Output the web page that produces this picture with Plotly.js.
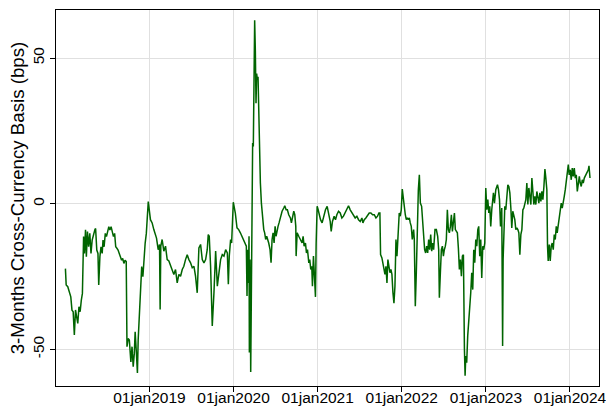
<!DOCTYPE html>
<html>
<head>
<meta charset="utf-8">
<script src="https://cdn.plot.ly/plotly-3.0.1.min.js"></script>
<style>html,body{margin:0;padding:0;background:#fff;}#chart{width:606px;height:409px;}</style>
</head>
<body>
<div id="chart"></div>
<script>
// Dates as decimal years
const dateYears = [
2018.001,2018.010,2018.029,2018.052,2018.065,2018.079,2018.093,2018.107,2018.121,2018.134,
2018.148,2018.162,2018.176,2018.190,2018.203,2018.217,2018.227,2018.240,2018.250,2018.263,
2018.277,2018.291,2018.305,2018.319,2018.337,2018.351,2018.360,2018.374,2018.388,2018.397,
2018.411,2018.424,2018.438,2018.448,2018.461,2018.475,2018.489,2018.503,2018.517,2018.530,
2018.544,2018.558,2018.572,2018.586,2018.599,2018.613,2018.627,2018.641,2018.655,2018.669,
2018.682,2018.696,2018.710,2018.724,2018.733,2018.747,2018.761,2018.770,2018.779,2018.793,
2018.807,2018.820,2018.830,2018.843,2018.857,2018.866,2018.880,2018.894,2018.908,2018.922,
2018.936,2018.949,2018.963,2018.977,2018.986,
2019.012,2019.032,2019.052,2019.084,2019.104,2019.120,2019.127,2019.135,2019.151,2019.171,
2019.191,2019.211,2019.231,2019.251,2019.270,2019.290,2019.310,2019.330,2019.350,2019.370,
2019.390,2019.409,2019.429,2019.449,2019.469,2019.489,2019.509,2019.529,2019.548,2019.568,
2019.588,2019.608,2019.628,2019.648,2019.668,2019.687,2019.699,2019.711,2019.727,2019.747,
2019.767,2019.787,2019.807,2019.826,2019.846,2019.866,2019.886,2019.906,2019.926,2019.938,
2019.949,2019.965,2019.977,2019.997,
2020.021,2020.041,2020.061,2020.081,2020.100,2020.120,2020.140,2020.152,2020.160,2020.168,
2020.176,2020.184,2020.188,2020.196,2020.204,2020.212,2020.220,2020.227,2020.235,2020.243,
2020.251,2020.259,2020.267,2020.275,2020.283,2020.291,2020.299,2020.307,2020.319,2020.331,
2020.347,2020.359,2020.370,2020.382,2020.394,2020.406,2020.418,2020.434,2020.446,2020.458,
2020.470,2020.482,2020.494,2020.505,2020.517,2020.529,2020.541,2020.557,2020.577,2020.597,
2020.609,2020.625,2020.640,2020.656,2020.676,2020.688,2020.700,2020.716,2020.728,2020.740,
2020.744,2020.756,2020.775,2020.795,2020.815,2020.827,2020.839,2020.855,2020.867,2020.879,
2020.895,2020.906,2020.918,2020.930,2020.938,2020.950,2020.962,2020.974,2020.982,2020.994,
2021.006,2021.022,2021.034,2021.053,2021.073,2021.093,2021.113,
2021.129,2021.149,2021.161,2021.176,2021.196,2021.212,2021.228,2021.248,2021.268,2021.288,
2021.307,2021.327,2021.347,2021.367,2021.387,2021.407,2021.426,2021.446,2021.466,2021.486,
2021.506,2021.526,2021.538,2021.554,2021.573,2021.593,2021.613,2021.633,2021.653,2021.673,
2021.693,2021.712,2021.728,2021.740,2021.748,2021.764,2021.776,2021.788,2021.800,2021.812,
2021.824,2021.835,2021.847,2021.859,2021.871,2021.883,2021.895,2021.907,2021.919,2021.931,
2021.943,2021.955,2021.970,2021.982,2021.994,2022.006,2022.018,2022.030,2022.042,2022.054,
2022.066,2022.078,2022.090,2022.101,2022.113,2022.125,
2022.129,2022.141,2022.149,2022.161,2022.173,2022.185,2022.197,2022.209,2022.221,2022.236,
2022.248,2022.260,2022.272,2022.284,2022.296,2022.308,2022.320,2022.332,2022.344,2022.356,
2022.367,2022.379,2022.395,2022.411,2022.427,2022.439,2022.447,2022.459,2022.471,2022.483,
2022.495,2022.506,2022.518,2022.530,2022.542,2022.554,2022.566,2022.578,2022.590,2022.602,
2022.614,2022.626,2022.637,2022.649,2022.661,2022.673,2022.685,2022.697,2022.709,2022.721,
2022.733,2022.745,2022.753,2022.761,2022.772,2022.784,2022.796,2022.808,2022.820,2022.832,
2022.844,2022.856,2022.868,2022.880,2022.892,2022.904,2022.915,2022.927,2022.939,2022.951,
2022.963,2022.975,2022.987,2022.999,2023.011,2023.023,2023.035,2023.046,2023.058,2023.070,
2023.090,2023.102,2023.118,2023.138,2023.150,2023.162,2023.174,2023.189,2023.199,
2023.205,2023.213,2023.225,2023.237,2023.249,2023.261,2023.273,2023.285,2023.297,2023.308,
2023.320,2023.332,2023.344,2023.356,2023.368,2023.380,2023.392,2023.404,2023.416,2023.428,
2023.440,2023.451,2023.463,2023.475,2023.487,2023.499,2023.511,2023.523,2023.535,2023.547,
2023.559,2023.570,2023.582,2023.594,2023.606,2023.618,2023.630,2023.642,2023.654,2023.666,
2023.678,2023.690,2023.702,2023.713,2023.725,2023.733,2023.741,2023.753,2023.765,2023.777,
2023.789,2023.801,2023.813,2023.825,2023.837,2023.848,2023.860,2023.872,2023.884,2023.896,
2023.908,2023.920,2023.932,2023.944,2023.956,2023.968,2023.980,2023.991,2024.003,2024.015,
2024.027,2024.039,2024.051,2024.063,2024.075,2024.087,2024.099,2024.111,2024.122,2024.134,
2024.146,2024.158,2024.170,2024.182,2024.194,2024.206,2024.218,2024.226,2024.238
];

// 3-month cross-currency basis, bps
const basisBps = [
-22.3,-27.9,-28.5,-30.8,-32.0,-36.6,-37.1,-45.1,-36.5,-38.8,
-41.1,-35.4,-37.1,-33.1,-30.8,-11.3,-17.1,-9.0,-18.2,-9.6,
-14.8,-10.2,-17.1,-12.5,-10.2,-9.0,-8.5,-15.9,-17.1,-27.9,
-18.2,-14.8,-17.1,-12.5,-14.8,-10.2,-11.3,-9.0,-7.9,-9.0,
-7.9,-9.6,-11.3,-10.2,-14.8,-15.3,-15.9,-17.1,-18.2,-19.4,
-18.8,-20.5,-19.4,-19.9,-49.1,-46.3,-46.8,-51.4,-54.3,-49.1,
-56.0,-51.4,-44.0,-50.3,-58.1,-46.8,-37.7,-32.5,-21.6,-25.1,
-18.2,-13.6,-10.2,-4.5,0.7,
-5.5,-6.6,-8.9,-11.8,-15.8,-14.0,-36.3,-14.6,-12.3,-16.3,
-14.6,-19.2,-19.7,-21.5,-23.2,-24.3,-22.6,-27.2,-24.3,-24.9,
-22.6,-21.5,-19.2,-17.5,-19.2,-20.3,-22.0,-21.5,-24.9,-30.6,
-15.2,-14.0,-19.2,-20.3,-19.2,-15.8,-10.6,-11.2,-21.5,-42.0,
-30.6,-16.3,-28.3,-24.3,-19.2,-17.5,-18.0,-15.8,-16.9,-27.7,
-18.0,-12.3,-13.5,0.5,
-3.2,-8.3,-8.9,-10.0,-11.2,-12.3,-13.5,-14.6,-31.7,-15.8,
-27.2,-11.2,-51.1,-19.2,-57.8,-13.5,-11.2,20.8,19.6,37.9,
63.0,52.7,34.5,44.7,42.5,43.6,32.2,18.5,7.1,0.2,
-6.6,-8.9,-10.0,-12.3,-11.2,-12.3,-13.5,-15.8,-20.3,-12.3,
-10.0,-13.5,-7.8,-11.2,-8.9,-7.8,-6.6,-4.3,-2.6,-1.5,
-0.7,-2.1,-2.1,-3.8,-4.9,-6.6,-4.9,-2.6,-3.8,-7.8,
-18.0,-10.0,-11.2,-12.3,-13.5,-11.2,-14.6,-13.5,-16.9,-15.8,
-20.3,-19.2,-22.6,-21.5,-28.3,-18.0,-27.2,-32.0,-13.5,-0.9,
-2.1,-4.3,-5.5,-6.6,-3.8,-2.1,-0.9,
-3.2,-6.1,-9.5,-6.1,-4.3,-5.5,-3.8,-2.6,-3.2,-4.9,
-4.3,-3.2,-2.1,-0.7,-2.1,-3.2,-3.8,-4.9,-4.3,-5.5,
-6.1,-4.9,-6.6,-5.5,-4.9,-3.8,-3.2,-3.2,-3.8,-3.8,
-4.9,-4.3,-3.2,-3.2,-17.5,-18.6,-20.3,-21.5,-24.3,-21.5,
-27.2,-19.2,-22.6,-23.7,-22.6,-24.3,-30.6,-34.2,-28.3,-12.3,
-18.0,-9.5,-3.2,-4.3,-2.1,5.0,1.4,-2.1,-3.8,-5.5,
-4.9,-5.5,-4.9,-6.6,-7.8,-12.3,
-11.2,-8.9,-12.3,-35.2,-23.7,-4.3,4.8,9.9,0.2,-0.9,
-6.6,-10.0,-15.8,-16.9,-14.6,-16.9,-12.3,-15.8,-10.6,-16.3,
-13.5,-15.8,-8.9,-8.9,-11.2,-15.8,-32.3,-23.7,-15.8,-14.6,
-18.0,-15.8,-14.6,-12.3,-2.1,-8.9,-10.0,-7.8,-3.8,-9.5,
-5.5,-3.2,-8.9,-9.5,-10.0,-15.2,-22.6,-19.2,-24.9,-18.0,
-17.5,-50.0,-59.1,-52.3,-54.6,-45.4,-40.9,-36.3,-30.6,-23.7,
-29.5,-15.8,-20.3,-12.3,-14.6,-8.9,-7.8,-18.0,-12.3,-25.5,
-14.6,-15.8,-13.5,5.4,-2.1,1.4,-3.2,-0.9,-7.8,-2.1,
3.7,0.2,4.8,6.5,4.8,1.4,-7.8,-1.5,-48.9,
-19.2,-8.9,-0.9,-2.1,3.7,6.5,5.9,3.7,-1.5,-8.3,
-2.6,-4.3,-5.5,-8.9,-8.3,-8.9,-10.0,-17.5,-10.6,-8.9,
-2.1,-1.5,0.8,1.4,7.1,-0.3,5.4,1.9,-0.3,8.8,
3.7,-0.3,2.5,-0.3,4.2,1.4,0.2,3.7,0.8,4.2,
1.4,5.9,11.9,8.8,4.8,-14.6,-19.7,-14.0,-19.7,-14.6,
-13.5,-15.8,-10.6,-12.3,-7.8,-10.0,-7.8,-4.3,-2.1,0.2,
-1.5,1.4,2.5,4.8,7.1,10.5,13.4,9.9,11.6,8.2,
12.2,9.4,12.2,8.8,9.9,4.2,8.2,9.4,7.1,5.9,
8.2,7.1,8.8,9.4,9.9,10.5,11.6,13.0,8.8
];

const xTickVals = [2019, 2020, 2021, 2022, 2023, 2024];
const xTickText = ["01jan2019", "01jan2020", "01jan2021", "01jan2022", "01jan2023", "01jan2024"];
const yTickVals = [-50, 0, 50];
const yTickText = ["-50", "0", "50"];

const FONT = "Liberation Sans, Arial, Helvetica, sans-serif";

const trace = {
  x: dateYears,
  y: basisBps,
  type: "scatter",
  mode: "lines",
  line: {color: "#006400", width: 1.5},
  hoverinfo: "skip"
};

const layout = {
  width: 606,
  height: 409,
  margin: {l: 56, r: 7, t: 10, b: 23, pad: 0},
  paper_bgcolor: "#ffffff",
  plot_bgcolor: "#ffffff",
  showlegend: false,
  font: {family: FONT, color: "#000000"},
  xaxis: {
    range: [2017.889, 2024.345],
    tickmode: "array",
    tickvals: xTickVals,
    ticktext: xTickText,
    ticks: "outside",
    ticklen: 5,
    tickwidth: 1,
    tickcolor: "#000000",
    tickfont: {family: FONT, size: 15.5, color: "#000000"},
    ticklabelstandoff: -8,
    ticklabeloverflow: "allow",
    automargin: false,
    showline: true,
    linecolor: "#000000",
    linewidth: 1,
    mirror: true,
    showgrid: true,
    gridcolor: "#e0e0e0",
    gridwidth: 1,
    zeroline: false,
    fixedrange: true
  },
  yaxis: {
    range: [-62.6, 66.5],
    tickmode: "array",
    tickvals: yTickVals,
    ticktext: yTickText,
    tickangle: -90,
    ticks: "outside",
    ticklen: 5,
    tickwidth: 1,
    tickcolor: "#000000",
    tickfont: {family: FONT, size: 15.5, color: "#000000"},
    showline: true,
    linecolor: "#000000",
    linewidth: 1,
    mirror: true,
    showgrid: true,
    gridcolor: "#e0e0e0",
    gridwidth: 1,
    zeroline: false,
    automargin: false,
    title: {text: "3-Months Cross-Currency Basis (bps)", font: {family: FONT, size: 18.7, color: "#000000"}, standoff: 0},
    fixedrange: true
  }
};

Plotly.newPlot("chart", [trace], layout, {displayModeBar: false, staticPlot: true});
</script>
</body>
</html>
